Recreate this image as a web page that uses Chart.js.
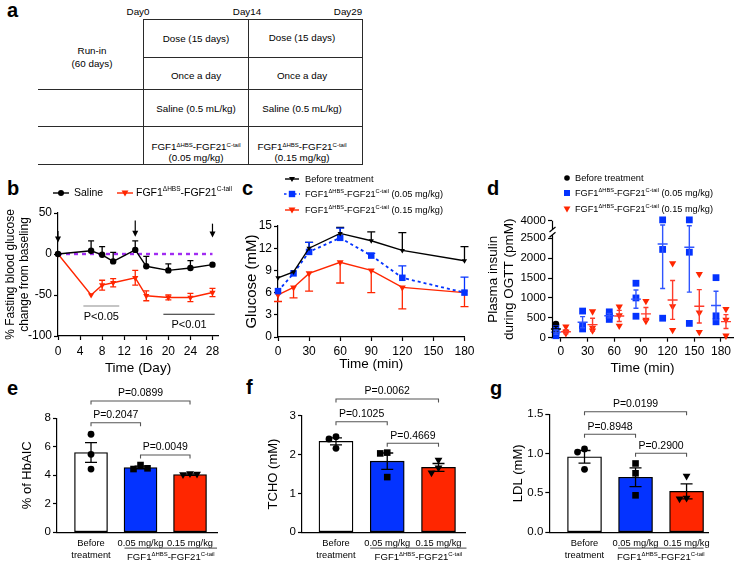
<!DOCTYPE html>
<html>
<head>
<meta charset="utf-8">
<script src="https://cdn.jsdelivr.net/npm/chart.js"></script>
<style>
html,body{margin:0;padding:0;background:#fff;}
#fig{position:relative;width:740px;height:567px;overflow:hidden;background:#fff;font-family:"Liberation Sans",Arial,Helvetica,sans-serif;color:#000;}
canvas{position:absolute;}
.pl{position:absolute;font-weight:bold;font-size:20px;line-height:20px;}
.hl{position:absolute;height:1px;background:#2a2a2a;}
.vl{position:absolute;width:1px;background:#2a2a2a;}
.tx{position:absolute;font-size:9.8px;line-height:11px;white-space:nowrap;transform:translate(-50%,-50%);text-align:center;}
.tx sup{font-size:6px;line-height:0;vertical-align:3px;}
</style>
</head>
<body>
<div id="fig">
  <!-- panel a : study design table -->
  <div class="pl" style="left:7px;top:0px">a</div>
  <div class="hl" style="left:143px;top:19px;width:220px"></div>
  <div class="hl" style="left:143px;top:57px;width:220px"></div>
  <div class="hl" style="left:38px;top:89px;width:325px"></div>
  <div class="hl" style="left:38px;top:126px;width:325px"></div>
  <div class="hl" style="left:38px;top:164px;width:325px"></div>
  <div class="vl" style="left:143px;top:19px;height:146px"></div>
  <div class="vl" style="left:248px;top:19px;height:146px"></div>
  <div class="vl" style="left:362px;top:19px;height:146px"></div>
  <div class="tx" style="left:138px;top:11px">Day0</div>
  <div class="tx" style="left:247px;top:11px">Day14</div>
  <div class="tx" style="left:348px;top:11px">Day29</div>
  <div class="tx" style="left:92px;top:50px">Run-in</div>
  <div class="tx" style="left:92px;top:63px">(60 days)</div>
  <div class="tx" style="left:196px;top:38px">Dose (15 days)</div>
  <div class="tx" style="left:302px;top:37px">Dose (15 days)</div>
  <div class="tx" style="left:196px;top:75px">Once a day</div>
  <div class="tx" style="left:302px;top:75px">Once a day</div>
  <div class="tx" style="left:196px;top:108px">Saline (0.5 mL/kg)</div>
  <div class="tx" style="left:302px;top:108px">Saline (0.5 mL/kg)</div>
  <div class="tx" style="left:196px;top:146px">FGF1<sup>ΔHBS</sup>-FGF21<sup>C-tail</sup></div>
  <div class="tx" style="left:196px;top:157px">(0.05 mg/kg)</div>
  <div class="tx" style="left:302px;top:146px">FGF1<sup>ΔHBS</sup>-FGF21<sup>C-tail</sup></div>
  <div class="tx" style="left:302px;top:157px">(0.15 mg/kg)</div>

  <div class="pl" style="left:7px;top:178px">b</div>
  <div class="pl" style="left:242px;top:178px">c</div>
  <div class="pl" style="left:487px;top:178px">d</div>
  <div class="pl" style="left:7px;top:378px">e</div>
  <div class="pl" style="left:246px;top:377px">f</div>
  <div class="pl" style="left:490px;top:378px">g</div>

  <canvas id="cb" width="232" height="205" style="left:0px;top:175px"></canvas>
  <canvas id="cc" width="240" height="208" style="left:238px;top:172px"></canvas>
  <canvas id="cd" width="260" height="208" style="left:480px;top:172px"></canvas>
  <canvas id="ce" width="240" height="187" style="left:0px;top:380px"></canvas>
  <canvas id="cf" width="240" height="187" style="left:243px;top:380px"></canvas>
  <canvas id="cg" width="253" height="187" style="left:487px;top:380px"></canvas>
</div>

<script>
// ================= DATA =================
// Panel b : % fasting blood glucose change from baseline
const bDays       = [0, 6, 8, 10, 14, 16, 20, 24, 28];
const bSaline     = [0, 4, -1, -9, 5, -15, -20, -17, -13];
const bSalineErr  = [0, 12, 10, 11, 11, 12, 8, 9, 0];
const bFgf        = [0, -50, -38, -35, -29, -51, -53, -53, -47];
const bFgfErr     = [0, 0, 6, 5, 9, 6, 3, 5, 5];
const bXTicks     = [0, 4, 8, 12, 16, 20, 24, 28];
const bYTicks     = [-100, -50, 0, 50];
const bDoseDays   = [0, 14, 28];
const bSigLabels  = ['P<0.05', 'P<0.01'];

// Panel c : OGTT glucose
const cTimes      = [0, 15, 30, 60, 90, 120, 180];
const cBefore     = [8.0, 8.8, 12.0, 14.0, 13.0, 11.7, 10.3];
const cBeforeErr  = [0, 0, 0.8, 0.8, 1.2, 2.4, 1.9];
const cLow        = [6.2, 8.6, 11.5, 13.4, 11.0, 8.0, 6.0];
const cLowErr     = [0, 0, 1.3, 1.3, 0.3, 1.6, 2.1];
const cHigh       = [5.7, 6.7, 8.6, 10.1, 9.0, 6.7, 6.0];
const cHighErr    = [0.9, 1.4, 2.4, 2.8, 3.0, 2.9, 1.9];
const cXTicks     = [0, 30, 60, 90, 120, 150, 180];
const cYTicks     = [0, 3, 6, 9, 12, 15];

// Panel d : plasma insulin during OGTT
const dTimes      = [0, 30, 60, 90, 120, 150, 180];
const dBeforePts  = [[340, 200, 120]];          // only at t = 0
const dBeforeMean = [220];
const dBeforeSem  = [64];
const dLowPts     = [[230, 140, 50], [670, 220, 310], [650, 460, 550], [1370, 540, 1000], [4100, 2220, 490], [4100, 2150, 360], [1510, 550, 400]];
const dLowMean    = [140, 390, 553, 970, 2358, 2273, 808];
const dLowSem     = [52, 140, 55, 230, 1120, 1127, 360];
const dHighPts    = [[280, 150, 110], [660, 180, 250], [780, 300, 560], [920, 450, 420], [1870, 790, 190], [1600, 630, 140], [720, 450, 50]];
const dHighMean   = [150, 330, 547, 600, 950, 790, 405];
const dHighSem    = [50, 160, 140, 160, 490, 420, 175];
const dXTicks     = [0, 30, 60, 90, 120, 150, 180];
const dYTicks     = [0, 500, 1000, 1500, 2000, 2500, 4000];

// Panels e, f, g : bar charts
const barCats     = [['Before', 'treatment'], '0.05 mg/kg', '0.15 mg/kg'];
const barPairs    = [[0, 1], [0, 2], [1, 2]];
const eMeans = [5.60, 4.55, 4.05];
const eSems  = [0.69, 0.09, 0.05];
const ePts   = [[6.88, 5.47, 4.44], [4.72, 4.44, 4.49], [4.10, 4.03, 4.06]];
const eP     = ['P=0.2047', 'P=0.0899', 'P=0.0049'];
const eYTicks = [0, 2, 4, 6, 8];
const fMeans = [2.34, 1.83, 1.67];
const fSems  = [0.09, 0.21, 0.10];
const fPts   = [[2.46, 2.40, 2.16], [2.05, 2.03, 1.42], [1.85, 1.65, 1.52]];
const fP     = ['P=0.1025', 'P=0.0062', 'P=0.4669'];
const fYTicks = [0, 1, 2, 3];
const gMeans = [0.96, 0.70, 0.52];
const gSems  = [0.08, 0.12, 0.095];
const gPts   = [[1.06, 1.02, 0.80], [0.875, 0.75, 0.47], [0.71, 0.43, 0.42]];
const gP     = ['P=0.8948', 'P=0.0199', 'P=0.2900'];
const gYTicks = [0, 0.5, 1.0, 1.5];
const gYTickLabels = ['0.0', '0.5', '1.0', '1.5'];

// ================= STYLE / HELPERS =================
const FONT = '"Liberation Sans", Arial, Helvetica, sans-serif';
const RED = '#ff2600', BLUE = '#0433ff', PURPLE = '#a12cf2';
const FGF = [['FGF1', 0], ['\u0394HBS', 1], ['-FGF21', 0], ['C-tail', 1]];

Chart.defaults.font.family = FONT;
Chart.defaults.color = '#000';
Chart.defaults.animation = false;
Chart.defaults.responsive = false;
Chart.defaults.maintainAspectRatio = false;
Chart.defaults.plugins.legend.display = false;
Chart.defaults.plugins.tooltip.enabled = false;
Chart.defaults.events = [];

function richText(ctx, parts, x, y, size, align) {
  ctx.save();
  ctx.textBaseline = 'middle'; ctx.textAlign = 'left'; ctx.fillStyle = '#000';
  const sup = size * 0.62;
  let w = 0;
  parts.forEach(([t, s]) => { ctx.font = (s ? sup : size) + 'px ' + FONT; w += ctx.measureText(t).width; });
  let cx = align === 'left' ? x : (align === 'right' ? x - w : x - w / 2);
  parts.forEach(([t, s]) => {
    ctx.font = (s ? sup : size) + 'px ' + FONT;
    ctx.fillText(t, cx, s ? y - size * 0.33 : y);
    cx += ctx.measureText(t).width;
  });
  ctx.restore();
}
function drawMarker(ctx, style, x, y, r, color) {
  ctx.save(); ctx.fillStyle = color; ctx.beginPath();
  if (style === 'circle') ctx.arc(x, y, r, 0, Math.PI * 2);
  else if (style === 'rect') ctx.rect(x - r, y - r, 2 * r, 2 * r);
  else { ctx.moveTo(x - r * 1.15, y - r * 0.8); ctx.lineTo(x + r * 1.15, y - r * 0.8); ctx.lineTo(x, y + r * 1.2); ctx.closePath(); }
  ctx.fill(); ctx.restore();
}
function legendItem(ctx, o) {
  ctx.save();
  if (o.line) {
    ctx.strokeStyle = o.color; ctx.lineWidth = o.lw || 1.4; ctx.setLineDash(o.dash || []);
    ctx.beginPath(); ctx.moveTo(o.line[0], o.y); ctx.lineTo(o.line[1], o.y); ctx.stroke(); ctx.setLineDash([]);
  }
  drawMarker(ctx, o.style, o.x, o.y, o.r, o.color);
  if (typeof o.text === 'string') richText(ctx, [[o.text, 0]], o.tx, o.y, o.size, 'left');
  else richText(ctx, o.text, o.tx, o.y, o.size, 'left');
  ctx.restore();
}
function errBars(ctx, xs, ys, xv, yv, ev, color, up, down, cap, lw) {
  ctx.save(); ctx.strokeStyle = color; ctx.lineWidth = lw || 1.2;
  xv.forEach((xx, i) => {
    const e = ev[i]; if (!e) return;
    const px = xs.getPixelForValue(xx), py = ys.getPixelForValue(yv[i]);
    const t = up ? ys.getPixelForValue(yv[i] + e) : py;
    const b = down ? ys.getPixelForValue(yv[i] - e) : py;
    ctx.beginPath(); ctx.moveTo(px, t); ctx.lineTo(px, b);
    if (up) { ctx.moveTo(px - cap, t); ctx.lineTo(px + cap, t); }
    if (down) { ctx.moveTo(px - cap, b); ctx.lineTo(px + cap, b); }
    ctx.stroke();
  });
  ctx.restore();
}
function spread(ys, sz) {
  const placed = [], offs = [];
  ys.forEach(yv => {
    let off = 0;
    for (const k of [0, -1, 1, -2, 2]) {
      const o = k * sz;
      if (placed.every(p => Math.hypot(p.x - o, p.y - yv) >= sz)) { off = o; break; }
    }
    placed.push({ x: off, y: yv }); offs.push(off);
  });
  return offs;
}
function axisX(o) {
  return {
    type: 'linear', min: o.min, max: o.max, offset: false, bounds: 'data',
    afterBuildTicks: s => { s.ticks = o.ticks.map(v => ({ value: v })); },
    afterFit: s => { s.height = o.h; },
    ticks: { autoSkip: false, maxRotation: 0, minRotation: 0, font: { size: o.fs, lineHeight: o.flh || 1.2 }, padding: o.tp,
             callback: (v, i) => o.labels[i] },
    grid: { display: o.tickLen > 0, drawOnChartArea: false, tickLength: o.tickLen || 0, tickColor: '#000', tickWidth: 1.2, offset: false },
    border: { display: true, color: '#000', width: 1.2 },
    title: o.title ? { display: true, text: o.title, font: { size: o.tfs }, padding: { top: 0, bottom: o.tpad } } : { display: false }
  };
}
function axisY(o) {
  return {
    type: o.type || 'linear', min: o.min, max: o.max, bounds: 'data',
    afterBuildTicks: s => { s.ticks = o.ticks.map(v => ({ value: v })); },
    afterFit: s => { s.width = o.w; },
    ticks: { autoSkip: false, font: { size: o.fs }, padding: o.tp, callback: (v, i) => o.labels[i] },
    grid: { display: true, drawOnChartArea: false, tickLength: 4, tickColor: '#000', tickWidth: 1.2 },
    border: { display: o.border !== false, color: '#000', width: 1.2 },
    title: { display: true, text: o.title, font: { size: o.tfs, lineHeight: o.tlh || 1.2 }, padding: { top: o.tpad, bottom: 0 } }
  };
}

// ================= PANEL b =================
const bExtras = {
  id: 'bExtras',
  beforeDatasetsDraw(chart) {
    const { ctx, scales: { x, y } } = chart;
    ctx.save();
    ctx.strokeStyle = PURPLE; ctx.lineWidth = 2.4; ctx.setLineDash([4, 4]);
    ctx.beginPath(); ctx.moveTo(x.getPixelForValue(bDays[0]), y.getPixelForValue(0));
    ctx.lineTo(x.getPixelForValue(bDays[bDays.length - 1]), y.getPixelForValue(0)); ctx.stroke();
    ctx.restore();
    errBars(ctx, x, y, bDays, bSaline, bSalineErr, '#000', true, false, 3, 1.3);
    errBars(ctx, x, y, bDays, bFgf, bFgfErr, RED, true, true, 3, 1.3);
  },
  afterDraw(chart) {
    const { ctx, scales: { x, y } } = chart;
    ctx.save();
    // dosing arrows
    const arrowSpan = [[28, 14], [41, 21], [37, 20]];
    ctx.strokeStyle = '#000'; ctx.fillStyle = '#000'; ctx.lineWidth = 1.2;
    bDoseDays.forEach((d, i) => {
      const px = x.getPixelForValue(d), y1 = y.getPixelForValue(arrowSpan[i][0]), y2 = y.getPixelForValue(arrowSpan[i][1]);
      ctx.beginPath(); ctx.moveTo(px, y1); ctx.lineTo(px, y2 - 5); ctx.stroke();
      ctx.beginPath(); ctx.moveTo(px - 3, y2 - 6); ctx.lineTo(px + 3, y2 - 6); ctx.lineTo(px, y2); ctx.closePath(); ctx.fill();
    });
    // significance lines
    const sig = [{ a: 4.6, b: 11.1, lv: -63.4, c: '#8c8c8c' }, { a: 19.1, b: 28.4, lv: -73.5, c: '#222' }];
    sig.forEach((s, i) => {
      const yy = y.getPixelForValue(s.lv);
      ctx.strokeStyle = s.c; ctx.lineWidth = 1.2;
      ctx.beginPath(); ctx.moveTo(x.getPixelForValue(s.a), yy); ctx.lineTo(x.getPixelForValue(s.b), yy); ctx.stroke();
      ctx.fillStyle = '#000'; ctx.font = '11px ' + FONT; ctx.textAlign = 'center'; ctx.textBaseline = 'middle';
      ctx.fillText(bSigLabels[i], (x.getPixelForValue(s.a) + x.getPixelForValue(s.b)) / 2, yy + 11);
    });
    ctx.restore();
    // legend
    legendItem(ctx, { x: 61, y: 18, color: '#000', style: 'circle', r: 3, line: [53, 69], text: 'Saline', tx: 74, size: 10.5 });
    legendItem(ctx, { x: 125, y: 18, color: RED, style: 'tri', r: 3, line: [117, 133], text: FGF, tx: 136, size: 10.5 });
  }
};
new Chart(document.getElementById('cb'), {
  type: 'line',
  data: { datasets: [
    { data: bDays.map((d, i) => ({ x: d, y: bSaline[i] })), borderColor: '#000', backgroundColor: '#000', borderWidth: 1.4,
      pointStyle: 'circle', pointRadius: 3.2, pointBorderWidth: 0, clip: false },
    { data: bDays.map((d, i) => ({ x: d, y: bFgf[i] })), borderColor: RED, backgroundColor: RED, borderWidth: 1.4,
      pointStyle: 'triangle', pointRotation: 180, pointRadius: 3.6, pointBorderWidth: 0, clip: false }
  ] },
  options: {
    layout: { padding: { top: 38, right: 14, left: 0, bottom: 0 } },
    scales: {
      x: axisX({ min: 0, max: 29, ticks: bXTicks, labels: bXTicks.map(String), h: 44, fs: 12, tp: 4.5, tickLen: 4,
                 title: 'Time (Day)', tfs: 13.5, tpad: 4 }),
      y: axisY({ min: -100, max: 50, ticks: bYTicks, labels: bYTicks.map(String), w: 58, fs: 12, tp: 2,
                 title: ['% Fasting blood glucose', 'change from baseling'], tfs: 12, tlh: 1.17, tpad: 4 })
    }
  },
  plugins: [bExtras]
});

// ================= PANEL c =================
const cExtras = {
  id: 'cExtras',
  beforeDatasetsDraw(chart) {
    const { ctx, scales: { x, y } } = chart;
    errBars(ctx, x, y, cTimes, cBefore, cBeforeErr, '#000', true, false, 4, 1.3);
    errBars(ctx, x, y, cTimes, cLow, cLowErr, BLUE, true, false, 4, 1.3);
    errBars(ctx, x, y, cTimes, cHigh, cHighErr, RED, false, true, 4, 1.3);
  },
  afterDraw(chart) {
    const ctx = chart.ctx;
    legendItem(ctx, { x: 54, y: 7, color: '#000', style: 'tri', r: 2.6, line: [47, 61], text: 'Before treatment', tx: 67, size: 9.2 });
    legendItem(ctx, { x: 54, y: 22, color: BLUE, style: 'rect', r: 3.2, line: [46, 62], dash: [2.5, 2.5], lw: 1.6,
                      text: FGF.concat([[' (0.05 mg/kg)', 0]]), tx: 67, size: 9.2 });
    legendItem(ctx, { x: 54, y: 38, color: RED, style: 'tri', r: 3, line: [47, 61], text: FGF.concat([[' (0.15 mg/kg)', 0]]), tx: 67, size: 9.2 });
  }
};
new Chart(document.getElementById('cc'), {
  type: 'line',
  data: { datasets: [
    { data: cTimes.map((t, i) => ({ x: t, y: cBefore[i] })), borderColor: '#000', backgroundColor: '#000', borderWidth: 1.4,
      pointStyle: 'triangle', pointRotation: 180, pointRadius: 3, pointBorderWidth: 0, clip: false },
    { data: cTimes.map((t, i) => ({ x: t, y: cLow[i] })), borderColor: BLUE, backgroundColor: BLUE, borderWidth: 1.8, borderDash: [3, 3],
      pointStyle: 'rect', pointRadius: 4.6, pointBorderWidth: 0, clip: false },
    { data: cTimes.map((t, i) => ({ x: t, y: cHigh[i] })), borderColor: RED, backgroundColor: RED, borderWidth: 1.4,
      pointStyle: 'triangle', pointRotation: 180, pointRadius: 4, pointBorderWidth: 0, clip: false }
  ] },
  options: {
    layout: { padding: { top: 54, right: 12, left: 0, bottom: 0 } },
    scales: {
      x: axisX({ min: 0, max: 180, ticks: cXTicks, labels: cXTicks.map(String), h: 43, fs: 12, tp: 3.5, tickLen: 4,
                 title: 'Time (min)', tfs: 13.5, tpad: 8 }),
      y: axisY({ min: 0, max: 15, ticks: cYTicks, labels: cYTicks.map(String), w: 40, fs: 12, tp: 2,
                 title: 'Glucose (mM)', tfs: 15, tpad: 4.5 })
    }
  },
  plugins: [cExtras]
});

// ================= PANEL d (broken y axis) =================
const dBreak = { lowMax: 2500, upMin: 3000, lowFrac: 0.8496, upFrac: 0.071 };
class BrokenLinearScale extends Chart.LinearScale {
  getPixelForValue(value) {
    if (value === null || value === undefined || isNaN(value)) return NaN;
    const top = this.top, bottom = this.bottom, h = bottom - top;
    const lowH = h * dBreak.lowFrac, upH = h * dBreak.upFrac;
    const yLow = bottom - lowH, yUp = top + upH;
    if (value <= dBreak.lowMax) return bottom - (value - this.min) / (dBreak.lowMax - this.min) * lowH;
    if (value >= dBreak.upMin) return top + (this.max - value) / (this.max - dBreak.upMin) * upH;
    return yLow + (value - dBreak.lowMax) / (dBreak.upMin - dBreak.lowMax) * (yUp - yLow);
  }
  getValueForPixel(pixel) {
    const top = this.top, bottom = this.bottom, h = bottom - top;
    const lowH = h * dBreak.lowFrac, upH = h * dBreak.upFrac;
    const yLow = bottom - lowH, yUp = top + upH;
    if (pixel >= yLow) return this.min + (bottom - pixel) / lowH * (dBreak.lowMax - this.min);
    if (pixel <= yUp) return this.max - (pixel - top) / upH * (this.max - dBreak.upMin);
    return dBreak.lowMax + (yLow - pixel) / (yLow - yUp) * (dBreak.upMin - dBreak.lowMax);
  }
}
BrokenLinearScale.id = 'brokenLinear';
BrokenLinearScale.defaults = Chart.LinearScale.defaults;
Chart.register(BrokenLinearScale);

const D_OFF = 5.6; // horizontal group offset in minutes
function dPoints(times, pts, off) {
  const out = [];
  pts.forEach((arr, i) => arr.forEach(v => out.push({ x: times[i] + off, y: v })));
  return out;
}
const dExtras = {
  id: 'dExtras',
  afterDatasetsDraw(chart) {
    const { ctx, scales: { x, y } } = chart;
    const groups = [
      { t: [0], m: dBeforeMean, s: dBeforeSem, off: -D_OFF, c: '#000' },
      { t: dTimes, m: dLowMean, s: dLowSem, off: -D_OFF, c: '#2f55ff' },
      { t: dTimes, m: dHighMean, s: dHighSem, off: D_OFF, c: '#ff3b2a' }
    ];
    ctx.save(); ctx.lineWidth = 1.4;
    groups.forEach(g => {
      ctx.strokeStyle = g.c;
      g.m.forEach((m, i) => {
        const px = x.getPixelForValue(g.t[i] + g.off);
        const pm = y.getPixelForValue(m), pt = y.getPixelForValue(m + g.s[i]), pb = y.getPixelForValue(Math.max(0, m - g.s[i]));
        ctx.beginPath();
        ctx.moveTo(px - 5, pm); ctx.lineTo(px + 5, pm);
        ctx.moveTo(px, pt); ctx.lineTo(px, pb);
        ctx.moveTo(px - 2.5, pt); ctx.lineTo(px + 2.5, pt);
        ctx.moveTo(px - 2.5, pb); ctx.lineTo(px + 2.5, pb);
        ctx.stroke();
      });
    });
    ctx.restore();
  },
  afterDraw(chart) {
    const { ctx, scales: { y } } = chart;
    const xL = Math.round(chart.chartArea.left) + 0.5;
    const yLowTop = y.getPixelForValue(dBreak.lowMax) - 3.5;
    const yUpBot = y.getPixelForValue(dBreak.upMin) + 0.5;
    ctx.save(); ctx.strokeStyle = '#000'; ctx.lineWidth = 1.2;
    ctx.beginPath();
    ctx.moveTo(xL, y.bottom); ctx.lineTo(xL, yLowTop);
    ctx.moveTo(xL, yUpBot); ctx.lineTo(xL, y.top);
    [yLowTop, yUpBot].forEach(yy => { ctx.moveTo(xL - 3, yy + 2.5); ctx.lineTo(xL + 3, yy - 2.5); });
    ctx.stroke();
    ctx.restore();
    legendItem(ctx, { x: 87, y: 6, color: '#000', style: 'circle', r: 2.8, text: 'Before treatment', tx: 95, size: 9.2 });
    legendItem(ctx, { x: 87, y: 21, color: BLUE, style: 'rect', r: 3, text: FGF.concat([[' (0.05 mg/kg)', 0]]), tx: 95, size: 9.2 });
    legendItem(ctx, { x: 87, y: 37, color: RED, style: 'tri', r: 3, text: FGF.concat([[' (0.15 mg/kg)', 0]]), tx: 95, size: 9.2 });
  }
};
new Chart(document.getElementById('cd'), {
  type: 'scatter',
  data: { datasets: [
    { data: dPoints(dTimes, dHighPts, D_OFF), backgroundColor: RED, borderColor: RED, pointStyle: 'triangle', pointRotation: 180,
      pointRadius: 4.2, pointBorderWidth: 0, clip: false },
    { data: dPoints(dTimes, dLowPts, -D_OFF), backgroundColor: BLUE, borderColor: BLUE, pointStyle: 'rect',
      pointRadius: 4.8, pointBorderWidth: 0, clip: false },
    { data: dPoints([0], dBeforePts, -D_OFF), backgroundColor: '#000', borderColor: '#000', pointStyle: 'circle',
      pointRadius: 3.4, pointBorderWidth: 0, clip: false }
  ] },
  options: {
    layout: { padding: { top: 48.7, right: 7, left: 0, bottom: 0 } },
    scales: {
      x: axisX({ min: -10, max: 193.5, ticks: dXTicks, labels: dXTicks.map(String), h: 42.3, fs: 12, tp: 3, tickLen: 4,
                 title: 'Time (min)', tfs: 13.5, tpad: 4 }),
      y: axisY({ type: 'brokenLinear', min: 0, max: 4000, ticks: dYTicks, labels: dYTicks.map(String), w: 72, fs: 11.5, tp: 2,
                 border: false, title: ['Plasma insulin', 'during OGTT (pmM)'], tfs: 13.5, tlh: 1.2, tpad: 5 })
    }
  },
  plugins: [dExtras]
});

// ================= PANELS e, f, g =================
function barChart(id, c) {
  const extras = {
    id: 'barExtras',
    afterDatasetsDraw(chart) {
      const { ctx, scales: { x, y } } = chart;
      ctx.save();
      // error bars (mean ± SEM)
      ctx.strokeStyle = '#000'; ctx.lineWidth = 1.3;
      c.means.forEach((m, i) => {
        const px = x.getPixelForValue(i);
        const t = y.getPixelForValue(m + c.sems[i]), b = y.getPixelForValue(m - c.sems[i]);
        ctx.beginPath(); ctx.moveTo(px, t); ctx.lineTo(px, b);
        ctx.moveTo(px - 6, t); ctx.lineTo(px + 6, t); ctx.moveTo(px - 6, b); ctx.lineTo(px + 6, b); ctx.stroke();
      });
      // individual animals
      const styles = ['circle', 'rect', 'tri'], radii = [3.4, 3.3, 3.4];
      c.pts.forEach((arr, i) => {
        const px = x.getPixelForValue(i);
        const pys = arr.map(v => y.getPixelForValue(v));
        const offs = spread(pys, 7);
        pys.forEach((py, k) => drawMarker(ctx, styles[i], px + offs[k], py, radii[i], '#000'));
      });
      // P-value brackets
      barPairs.forEach((pr, k) => {
        const x1 = x.getPixelForValue(pr[0]), x2 = x.getPixelForValue(pr[1]), yy = y.getPixelForValue(c.levels[k]);
        ctx.strokeStyle = '#555'; ctx.lineWidth = 1.1;
        ctx.beginPath(); ctx.moveTo(x1, yy + 3.5); ctx.lineTo(x1, yy); ctx.lineTo(x2, yy); ctx.lineTo(x2, yy + 3.5); ctx.stroke();
        ctx.fillStyle = '#000'; ctx.font = '10.5px ' + FONT; ctx.textAlign = 'center'; ctx.textBaseline = 'middle';
        ctx.fillText(c.pLabels[k], (x1 + x2) / 2, yy - 7.5);
      });
      // treatment group label
      const lx1 = x.getPixelForValue(1) - c.gl[0], lx2 = x.getPixelForValue(2) + c.gl[1], ly = chart.chartArea.bottom + 15.8;
      ctx.strokeStyle = '#444'; ctx.lineWidth = 1;
      ctx.beginPath(); ctx.moveTo(lx1, ly); ctx.lineTo(lx2, ly); ctx.stroke();
      ctx.restore();
      richText(ctx, FGF, (lx1 + lx2) / 2, ly + 9.5, 9.6, 'center');
    }
  };
  return new Chart(document.getElementById(id), {
    type: 'bar',
    data: { datasets: [{
      data: c.means.map((m, i) => ({ x: i, y: m })),
      backgroundColor: ['#ffffff', BLUE, RED], borderColor: '#000', borderWidth: 1.3, borderSkipped: false,
      barThickness: c.bw
    }] },
    options: {
      layout: { padding: { top: c.padTop, right: c.padRight, left: 0, bottom: 0 } },
      scales: {
        x: axisX({ min: c.xmin, max: c.xmax, ticks: [0, 1, 2], labels: barCats, h: 34.7, fs: 9.3, flh: 1.35, tp: 4.6, tickLen: 0 }),
        y: axisY({ min: 0, max: c.yTicks[c.yTicks.length - 1], ticks: c.yTicks, labels: c.yLabels, w: c.yw, fs: 11.5, tp: 2,
                   title: c.title, tfs: 13, tpad: c.tpad })
      }
    },
    plugins: [extras]
  });
}
barChart('ce', { means: eMeans, sems: eSems, pts: ePts, pLabels: eP, levels: [7.69, 9.21, 5.42],
  yTicks: eYTicks, yLabels: eYTicks.map(String), title: '% of HbAIC', tpad: 20, yw: 57, padTop: 38.3, padRight: 23,
  xmin: -0.687, xmax: 2.545, bw: 33, gl: [16, 27] });
barChart('cf', { means: fMeans, sems: fSems, pts: fPts, pLabels: fP, levels: [2.845, 3.43, 2.29],
  yTicks: fYTicks, yLabels: fYTicks.map(String), title: 'TCHO (mM)', tpad: 22.5, yw: 59, padTop: 35.7, padRight: 18,
  xmin: -0.663, xmax: 2.517, bw: 34, gl: [17, 28] });
barChart('cg', { means: gMeans, sems: gSems, pts: gPts, pLabels: gP, levels: [1.246, 1.533, 1.004],
  yTicks: gYTicks, yLabels: gYTickLabels, title: 'LDL (mM)', tpad: 23.5, yw: 62.3, padTop: 34.3, padRight: 32,
  xmin: -0.69, xmax: 2.42, bw: 34, gl: [17.5, 17] });
</script>
</body>
</html>
